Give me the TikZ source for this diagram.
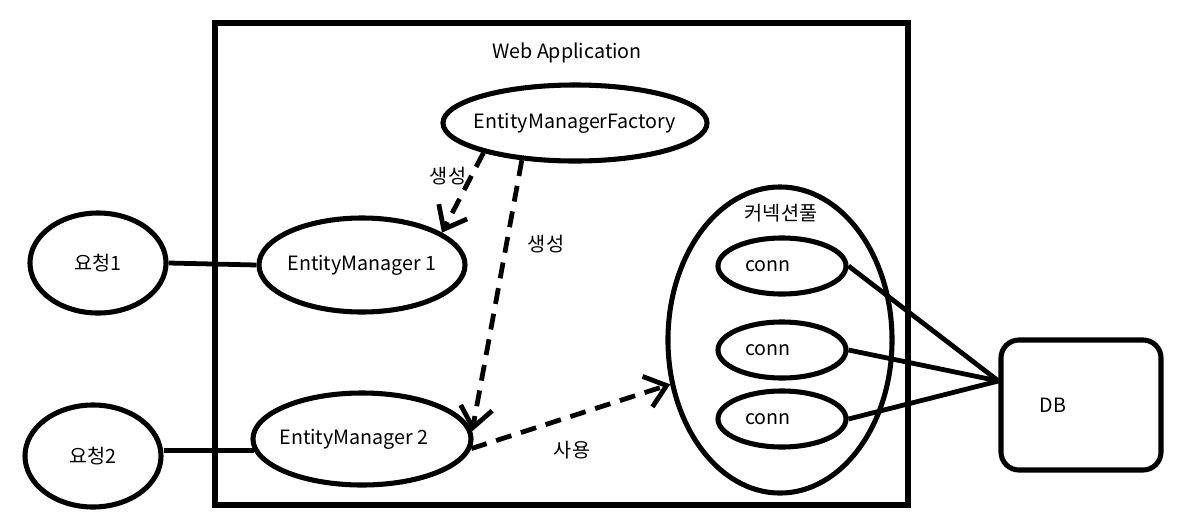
\documentclass[tikz,border=0pt]{standalone}
\usepackage{fontspec}
\setmainfont{Noto Sans CJK KR}
\usetikzlibrary{shapes.geometric,arrows.meta}

\tikzset{
	oval/.style={draw, ellipse, line width=3.6pt, inner sep=0pt},
	link/.style={line width=3.4pt},
	uses/.style={line width=3.4pt, dash pattern=on 0.4cm off 0.25cm, -{Straight Barb[length=0.5cm,width=0.8cm]}},
}

\begin{document}
\begin{tikzpicture}[x=0.025cm, y=-0.025cm, font=\fontsize{14}{16}\selectfont]
	\useasboundingbox (0,0) rectangle (1179,527);
	\draw[line width=3.8pt] (215,23) rectangle (908,505);
	\node (apptitle) at (567,53) {Web Application};
	%%
	\node[oval, minimum width=6.6cm, minimum height=1.9cm, label=center:EntityManagerFactory] (emf) at (575,123) {};
	\node[oval, minimum width=5.15cm, minimum height=2.35cm, label=center:EntityManager 1] (em1) at (362,265) {};
	\node[oval, minimum width=5.45cm, minimum height=2.3cm, label={[xshift=-0.2cm]center:EntityManager 2}] (em2) at (362,439) {};
	%%
	\node[oval, minimum width=3.4cm, minimum height=2.5cm, label=center:요청1] (req1) at (98,263) {};
	\node[oval, minimum width=3.4cm, minimum height=2.55cm, label=center:요청2] (req2) at (93,456) {};
	\draw[link] (req1.east) -- (em1.west);
	\draw[link] (em2.186 -| req2.east) -- (em2.186);
	%%
	\node[oval, minimum width=5.6cm, minimum height=7.65cm] (pool) at (780,340) {};
	\node (pooltitle) at (781,213) {커넥션풀};
	\foreach \y/\n in {266/1, 350/2, 419/3}
		\node[oval, minimum width=3.2cm, minimum height=1.4cm, label={[xshift=-0.35cm]center:conn}] (conn\n) at (782,\y) {};
	%%
	\node[draw, line width=3.6pt, rounded corners=0.45cm, minimum width=4cm, minimum height=3.25cm, label={[xshift=-0.7cm]center:DB}] (db) at (1081,405) {};
	\coordinate (dbin) at ([yshift=0.6cm]db.west);
	\foreach \n in {1,2,3}
		\draw[link] (conn\n.east) -- (dbin);
	%%
	\draw[uses] (emf.198) -- (em1.22);
	\draw[uses] (emf.215) -- (em2.4);
	\draw[uses] (em2.355) -- (pool.202);
	\node (make1) at (448,176) {생성};
	\node (make2) at (546,244) {생성};
	\node (use) at (572,450) {사용};
\end{tikzpicture}
\end{document}
